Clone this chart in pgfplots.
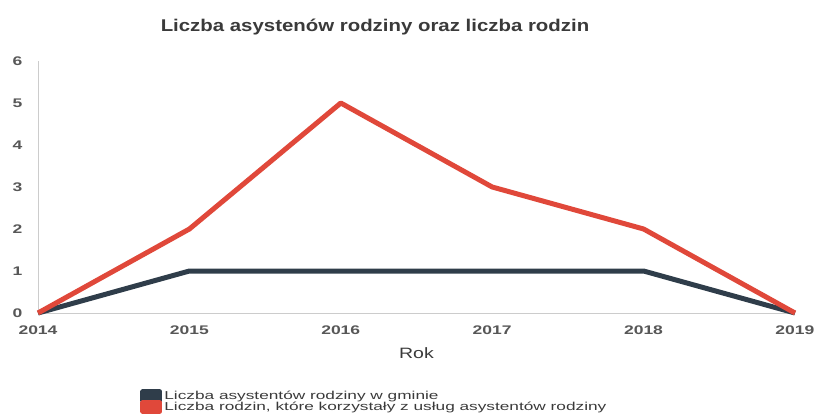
\documentclass[border=0pt]{standalone}
\usepackage{pgfplots}
\pgfplotsset{compat=1.18}
\usepackage{fontspec}
\setmainfont{Liberation Sans}
\newfontfamily\tickfont[FakeStretch=1.4]{Liberation Sans}
\newfontfamily\legfont[FakeStretch=1.5]{Liberation Sans}
\newfontfamily\titfont[FakeStretch=1.2]{Liberation Sans}
\newfontfamily\labfont[FakeStretch=1.3]{Liberation Sans}
\definecolor{darkser}{HTML}{2F3D4A}
\definecolor{redser}{HTML}{E0483A}
\definecolor{txt}{HTML}{3A3A3A}
\begin{document}
\begin{tikzpicture}[x=1pt,y=1pt]
\useasboundingbox (0,0) rectangle (817,416);
\begin{axis}[
  at={(38pt,103pt)}, anchor=south west,
  scale only axis, width=757pt, height=252pt,
  xmin=2014, xmax=2019, ymin=0, ymax=6,
  xtick={2014,...,2019}, ytick={0,...,6},
  xticklabel style={/pgf/number format/1000 sep={}},
  /pgf/number format/assume math mode=true,
  tick label style={font=\tickfont\fontsize{12.5}{12.5}\selectfont\bfseries, text=txt!85},
  yticklabel style={xshift=-12pt},
  xticklabel style={yshift=-9pt},
  axis x line*=bottom, axis y line*=left,
  axis line style={gray!40, line width=0.8pt},
  major tick length=0pt,
  clip=false,
  xlabel={Rok}, xlabel style={font=\labfont\fontsize{15}{15}\selectfont, text=txt, yshift=-6pt},
  legend style={at={(0.135,-0.30)}, anchor=north west, draw=none, fill=none,
    font=\legfont\fontsize{11.5}{11.5}\selectfont, text=txt, row sep=-3pt, inner sep=0pt,
    cells={anchor=west}},
  legend image code/.code={\fill (0pt,-4.5pt) rectangle (17pt,4pt);},
]
\addplot[darkser, line width=5pt, line join=round] coordinates {(2014,0) (2015,1) (2016,1) (2017,1) (2018,1) (2019,0)};
\addlegendentry{Liczba asystentów rodziny w gminie}
\addplot[redser, line width=5pt, line join=round] coordinates {(2014,0) (2015,2) (2016,5) (2017,3) (2018,2) (2019,0)};
\addlegendentry{Liczba rodzin, które korzystały z usług asystentów rodziny}
\end{axis}
\node[font=\titfont\fontsize{17}{17}\selectfont\bfseries, text=txt] at (375,389) {Liczba asystenów rodziny oraz liczba rodzin};
\end{tikzpicture}
\end{document}
